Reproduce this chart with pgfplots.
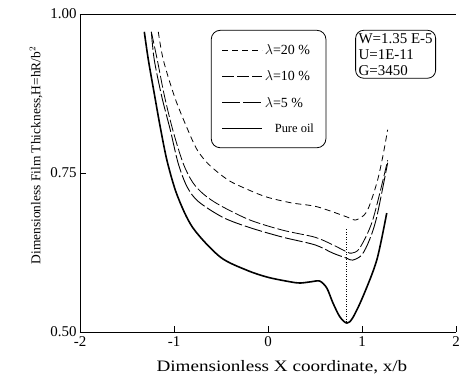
\documentclass[border=0pt]{standalone}
\usepackage{pgfplots}
\pgfplotsset{compat=1.18}
\usepackage{fontspec}
\usepackage{graphicx}
\setmainfont{Liberation Serif}
\begin{document}
\begin{tikzpicture}
\path[use as bounding box] (-80bp,-53bp) rectangle (380bp,332bp);
\begin{axis}[
  scale only axis,
  width=376bp, height=318bp,
  at={(0,0)}, anchor=south west,
  xmin=-2, xmax=2, ymin=0.5, ymax=1.0,
  axis x line=box, axis y line=left,
  y axis line style={-},
  axis line style={line width=0.8bp},
  xtick={-2,-1,0,1,2},
  ytick={0.5,0.75,1.0},
  xtick pos=left,
  ytick pos=left,
  tick align=inside,
  major tick length=6bp,
  tick style={line width=0.8bp, black},
  /pgf/number format/assume math mode=true,
  yticklabel style={/pgf/number format/fixed, /pgf/number format/fixed zerofill, /pgf/number format/precision=2},
  ticklabel style={font=\fontsize{15}{18}\selectfont},
  xticklabel style={yshift=-1bp},
  xlabel={\scalebox{1.2}[1]{Dimensionless X coordinate, x/b}},
  xlabel style={at={(axis description cs:0.537,-0.11)}, anchor=center, font=\fontsize{16}{18}\selectfont},
  ylabel={Dimensionless Film Thickness,H=hR/b$^{2}$},
  ylabel style={at={(axis description cs:-0.117,0.555)}, anchor=center, font=\fontsize{13.5}{16}\selectfont},
  legend cell align=left,
  legend image code/.code={\draw[#1] (0bp,0bp) -- (40bp,0bp);},
  legend style={draw=black, line width=0.8bp, rounded corners=9bp,
    at={(axis description cs:0.348,0.95)}, anchor=north west,
    inner xsep=10bp, inner ysep=12bp, row sep=11bp,
    font=\fontsize{14}{14}\selectfont,
    /tikz/every even column/.append style={column sep=2bp}},
  clip=false,
]
\addplot[black, line width=0.8bp, dash pattern=on 6bp off 4bp, smooth, tension=0.5] coordinates {
(-1.167,0.972) (-1.114,0.928) (-0.99,0.868) (-0.859,0.820) (-0.76,0.788) (-0.66,0.768) (-0.55,0.753) (-0.403,0.737) (-0.2,0.723) (-0.01,0.712) (0.25,0.703) (0.52,0.697) (0.838,0.681) (0.93,0.676) (1.05,0.689) (1.157,0.734) (1.22,0.775) (1.273,0.818)
};
\addlegendentry{$\lambda$=20 \%}
\addplot[black, line width=0.8bp, dash pattern=on 12bp off 3bp, smooth, tension=0.5] coordinates {
(-1.241,0.972) (-1.178,0.928) (-1.10,0.87) (-1.008,0.815) (-0.902,0.765) (-0.80,0.735) (-0.68,0.716) (-0.509,0.699) (-0.191,0.676) (0.159,0.660) (0.5,0.649) (0.69,0.637) (0.838,0.626) (0.891,0.624) (0.976,0.632) (1.114,0.676) (1.273,0.770)
};
\addlegendentry{$\lambda$=10 \%}
\addplot[black, line width=0.9bp, dash pattern=on 18bp off 3bp, smooth, tension=0.5] coordinates {
(-1.241,0.972) (-1.21,0.928) (-1.13,0.870) (-1.04,0.818) (-0.955,0.765) (-0.86,0.728) (-0.74,0.705) (-0.477,0.680) (-0.191,0.664) (0.159,0.649) (0.5,0.637) (0.69,0.624) (0.838,0.616) (0.90,0.613) (0.997,0.621) (1.08,0.645) (1.157,0.681) (1.273,0.766)
};
\addlegendentry{$\lambda$=5 \%}
\addplot[black, line width=1.6bp, smooth, tension=0.5] coordinates {
(-1.316,0.972) (-1.273,0.928) (-1.21,0.875) (-1.146,0.822) (-1.072,0.768) (-0.966,0.715) (-0.80,0.664) (-0.509,0.618) (-0.223,0.597) (0.0,0.586) (0.233,0.579) (0.34,0.577) (0.46,0.579) (0.552,0.580) (0.626,0.569) (0.69,0.546) (0.764,0.524) (0.838,0.514) (0.90,0.522) (1.008,0.555) (1.157,0.613) (1.263,0.687)
};
\addlegendentry{\hspace{10bp}{\fontsize{12.5}{12.5}\selectfont Pure oil}}
\addplot[black, line width=0.5bp, dotted, forget plot] coordinates {(0.83,0.516) (0.83,0.662)};
\node[draw=black, line width=0.8bp, rounded corners=8bp, align=left, anchor=north west, inner sep=3bp,
  font=\fontsize{15}{16}\selectfont] at (axis description cs:0.732,0.95) {W=1.35 E-5\\U=1E-11\\G=3450};
\end{axis}
\end{tikzpicture}
\end{document}
